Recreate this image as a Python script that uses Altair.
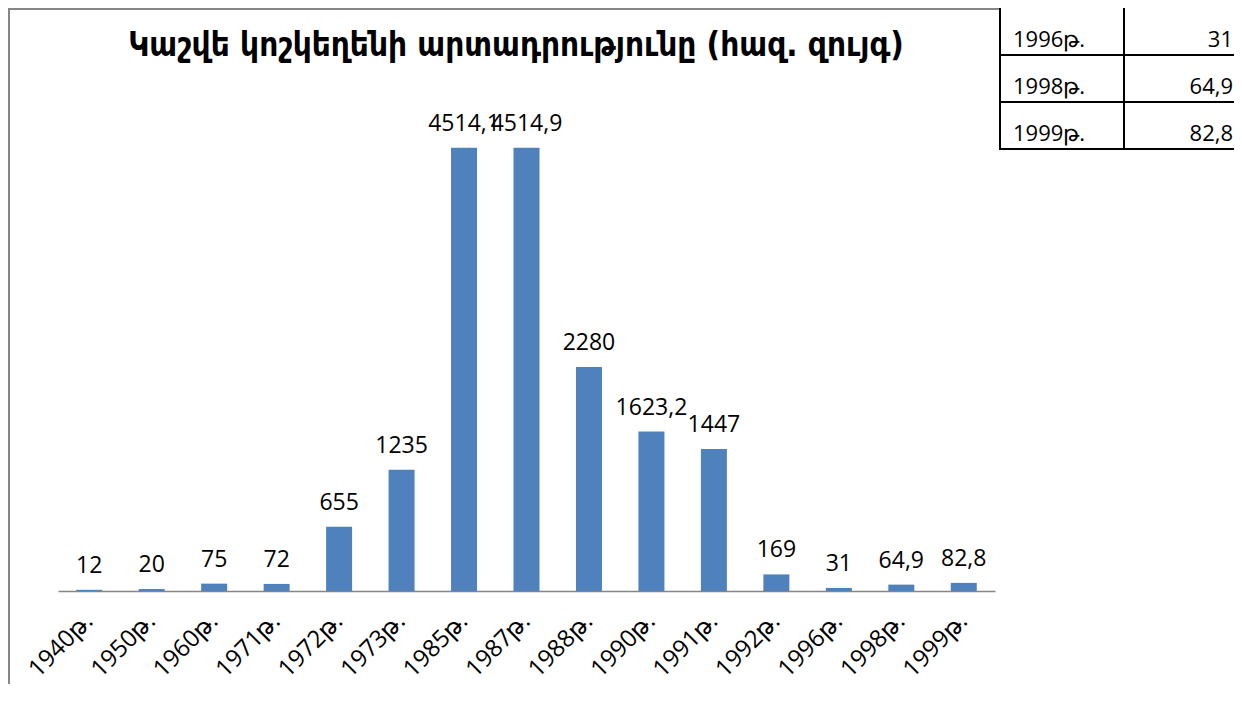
import altair as alt
import pandas as pd

years = ["1940թ.", "1950թ.", "1960թ.", "1971թ.", "1972թ.", "1973թ.", "1985թ.", "1987թ.",
         "1988թ.", "1990թ.", "1991թ.", "1992թ.", "1996թ.", "1998թ.", "1999թ."]
values = [12, 20, 75, 72, 655, 1235, 4514.1, 4514.9, 2280, 1623.2, 1447, 169, 31, 64.9, 82.8]

table_years = ["1996թ.", "1998թ.", "1999թ."]
table_values = ["31", "64,9", "82,8"]

title_text = "Կաշվե կոշկեղենի արտադրությունը (հազ. զույգ)"


def fmt(v):
    return f"{v:g}".replace(".", ",")


df = pd.DataFrame({"year": years, "value": values, "label": [fmt(v) for v in values]})
tdf = pd.DataFrame({"row": [0, 1, 2], "year": table_years, "value": table_values})
one = pd.DataFrame({"k": [0]})
tdata = pd.DataFrame({"t": [title_text]})

x = alt.X(
    "year:N", sort=None,
    scale=alt.Scale(paddingInner=0.584, paddingOuter=0.292),
    axis=alt.Axis(title=None, labelAngle=-45, labelAlign="right", labelBaseline="middle",
                  labelFont="Open Sans", labelFontSize=24, labelColor="black",
                  ticks=False, domainColor="#868686", domainWidth=1.5, labelPadding=26),
)
y = alt.Y("value:Q", scale=alt.Scale(domain=[0, 5000]), axis=None)

bars = alt.Chart(df).mark_bar(color="#4F81BD").encode(x=x, y=y)
labels = alt.Chart(df).mark_text(
    font="Open Sans", fontSize=23, baseline="alphabetic", dy=-17, color="black"
).encode(x=x, y=y, text="label:N")

ty = alt.Y("row:O", scale=alt.Scale(domain=[0, 1, 2], range=[-92, 49], paddingInner=0, paddingOuter=0),
           axis=None)
ty_end = alt.Y("row:O", scale=alt.Scale(domain=[0, 1, 2], range=[-92, 49], paddingInner=0, paddingOuter=0),
               axis=None, bandPosition=1)

t_left = alt.Chart(tdf).mark_text(
    font="Open Sans", fontSize=22, align="left", baseline="alphabetic", dy=15, color="black"
).encode(x=alt.value(955), y=ty, text="year:N")
t_right = alt.Chart(tdf).mark_text(
    font="Open Sans", fontSize=22, align="right", baseline="alphabetic", dy=15, color="black"
).encode(x=alt.value(1175), y=ty, text="value:N")
t_hlines = alt.Chart(tdf).mark_rule(color="black", strokeWidth=2).encode(
    x=alt.value(942), x2=alt.value(1180), y=ty_end)
t_v1 = alt.Chart(one).mark_rule(color="black", strokeWidth=2).encode(
    x=alt.value(942), y=alt.value(-92), y2=alt.value(50))
t_v2 = alt.Chart(one).mark_rule(color="black", strokeWidth=2).encode(
    x=alt.value(1066), y=alt.value(-92), y2=alt.value(50))

frame_left = alt.Chart(one).mark_rule(color="#868686", strokeWidth=2).encode(
    x=alt.value(-49), y=alt.value(-92), y2=alt.value(700))
frame_top = alt.Chart(one).mark_rule(color="#868686", strokeWidth=2).encode(
    x=alt.value(-50), x2=alt.value(941), y=alt.value(-91))

title = alt.Chart(tdata).mark_text(
    font="DejaVu Sans Condensed", fontSize=33, fontWeight="bold", baseline="alphabetic",
    align="center", color="black"
).encode(x=alt.value(458), y=alt.value(-44), text="t:N")

chart = alt.layer(frame_left, frame_top, title, bars, labels, t_hlines, t_v1, t_v2,
                  t_left, t_right).resolve_scale(
    y="independent"
).properties(
    width=937, height=491,
    background="white",
    autosize=alt.AutoSizeParams(type="none"),
    padding={"left": 50, "top": 92, "right": 239, "bottom": 93},
).configure_view(stroke=None)

chart.save("out.html", embed_options={"renderer": "svg", "actions": False})
